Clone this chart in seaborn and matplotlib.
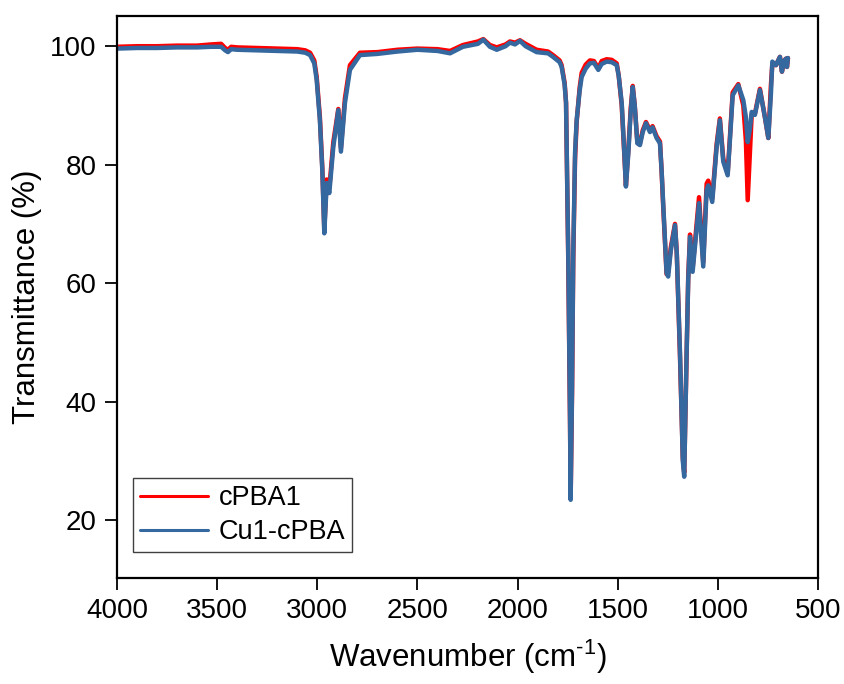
import numpy as np
import pandas as pd
import matplotlib
matplotlib.use('Agg')
import matplotlib.pyplot as plt
import seaborn as sns

wavenumber = [4000, 3900, 3800, 3700, 3600, 3530, 3480, 3460, 3446, 3430,
              3400, 3300, 3200, 3100, 3060, 3036, 3015, 3003, 2987, 2975,
              2965, 2953, 2940, 2920, 2895, 2882, 2862, 2837, 2787, 2700,
              2600, 2500, 2400, 2337, 2273, 2198, 2171, 2138, 2104, 2060,
              2038, 2013, 1988, 1960, 1938, 1905, 1848, 1823, 1790, 1780,
              1765, 1758, 1747, 1738, 1735, 1728, 1722, 1713, 1705, 1690,
              1680, 1660, 1639, 1619, 1597, 1580, 1555, 1530, 1505, 1495,
              1480, 1470, 1459, 1447, 1435, 1425, 1415, 1402, 1389, 1375,
              1359, 1339, 1326, 1306, 1289, 1281, 1273, 1256, 1248, 1235,
              1214, 1205, 1189, 1175, 1168, 1156, 1148, 1139, 1126, 1094,
              1073, 1056, 1048, 1028, 1006, 990, 973, 951, 940, 926,
              898, 873, 860, 851, 840, 831, 815, 790, 765, 748,
              735, 728, 710, 690, 680, 670, 660, 655, 650]

t_cpba1 = [99.9, 100.0, 100.0, 100.1, 100.1, 100.3, 100.4, 99.7, 99.4, 99.9,
           99.8, 99.7, 99.6, 99.5, 99.3, 98.9, 97.6, 94.8, 88.0, 79.5,
           69.0, 77.5, 76.0, 83.8, 89.4, 82.8, 91.2, 96.8, 98.9, 99.0,
           99.4, 99.6, 99.5, 99.2, 100.2, 100.8, 101.2, 100.2, 99.8, 100.3,
           100.8, 100.6, 101.0, 100.4, 100.0, 99.4, 99.1, 98.5, 97.6, 96.8,
           93.8, 90.5, 64.0, 36.0, 23.8, 41.5, 64.0, 81.0, 87.2, 93.0,
           95.5, 96.9, 97.6, 97.5, 96.3, 97.5, 97.8, 97.7, 97.1, 95.0,
           90.0, 83.5, 76.5, 82.5, 89.5, 93.3, 90.0, 83.8, 83.6, 85.8,
           87.2, 85.8, 86.5, 84.8, 83.9, 79.0, 73.0, 61.5, 61.8, 66.0,
           70.0, 65.0, 47.5, 30.5, 28.0, 48.0, 61.0, 68.2, 62.5, 74.5,
           63.5, 76.8, 77.3, 74.3, 83.5, 87.8, 81.0, 78.5, 84.5, 92.2,
           93.6, 90.0, 84.0, 74.0, 82.0, 88.5, 88.6, 92.8, 88.0, 84.5,
           93.5, 97.0, 96.8, 98.2, 95.7, 97.5, 97.9, 96.5, 98.0]

t_cu1_cpba = [99.6, 99.7, 99.7, 99.8, 99.8, 99.9, 99.9, 99.3, 99.0, 99.5,
              99.4, 99.3, 99.2, 99.1, 98.9, 98.5, 97.1, 94.3, 87.5, 79.1,
              68.4, 76.9, 75.2, 83.0, 89.2, 82.2, 90.4, 96.0, 98.5, 98.7,
              99.1, 99.4, 99.2, 98.8, 99.9, 100.4, 101.1, 99.9, 99.4, 100.0,
              100.6, 100.3, 100.9, 100.0, 99.6, 99.0, 98.8, 98.2, 97.3, 96.5,
              93.5, 90.4, 65.0, 36.9, 23.4, 42.5, 65.0, 82.0, 87.5, 92.5,
              94.8, 96.2, 97.1, 97.2, 96.0, 97.0, 97.4, 97.3, 96.8, 95.0,
              90.4, 84.0, 76.3, 81.9, 89.0, 93.1, 90.0, 83.6, 83.3, 85.5,
              87.0, 85.5, 86.3, 84.5, 83.6, 79.1, 73.5, 61.7, 61.1, 65.5,
              69.8, 65.0, 48.2, 30.0, 27.3, 48.2, 60.5, 67.8, 61.9, 73.5,
              62.8, 75.7, 76.5, 73.7, 83.0, 87.5, 80.5, 78.2, 84.0, 91.7,
              93.4, 90.9, 88.0, 83.8, 86.0, 88.9, 88.4, 92.6, 88.0, 84.5,
              92.0, 97.4, 96.8, 98.2, 95.7, 97.5, 97.9, 96.5, 98.0]

amostras = ['cPBA1', 'Cu1-cPBA']
cores = {'cPBA1': '#FF0000', 'Cu1-cPBA': '#35689E'}

df = pd.concat([
    pd.DataFrame({'Wavenumber': wavenumber, 'T': t_cpba1, 'Amostra': 'cPBA1'}),
    pd.DataFrame({'Wavenumber': wavenumber, 'T': t_cu1_cpba, 'Amostra': 'Cu1-cPBA'}),
], ignore_index=True)

# ---------- estilo ----------
sns.set_theme(style='ticks')
plt.rcParams['font.family'] = ['Liberation Sans', 'DejaVu Sans']
plt.rcParams['text.color'] = 'black'
plt.rcParams['axes.labelcolor'] = 'black'
plt.rcParams['axes.linewidth'] = 1.6

fig = plt.figure(figsize=(8.45, 6.84), dpi=100)
ax = fig.add_axes([117 / 845, 1 - 578 / 684, 701 / 845, 562 / 684])

sns.lineplot(data=df, x='Wavenumber', y='T', hue='Amostra', hue_order=amostras,
             palette=cores, estimator=None, sort=False, linewidth=3.2, ax=ax)

ax.set_xlim(4000, 500)
ax.set_ylim(10.2, 105.1)
ax.set_xticks(np.arange(4000, 499, -500))
ax.set_yticks([20, 40, 60, 80, 100])
ax.tick_params(axis='both', direction='out', length=8.5, width=1.3,
               labelsize=20, color='black', labelcolor='black', pad=6)
for s in ax.spines.values():
    s.set_visible(True)
    s.set_color('black')
    s.set_linewidth(1.6)

ax.set_xlabel('Wavenumber (cm$^{\\mathregular{\u20101}}$)', fontsize=22.5, labelpad=10)
ax.set_ylabel('Transmittance (%)', fontsize=22.5, labelpad=6)

handles, labels = ax.get_legend_handles_labels()
leg = ax.legend(handles, labels, loc='lower left', bbox_to_anchor=(0.023, 0.046),
                borderaxespad=0, fontsize=19.5, frameon=True, fancybox=False,
                framealpha=1, edgecolor='#404040', handlelength=2.5,
                handletextpad=0.4, borderpad=0.25, labelspacing=0.3)
leg.get_frame().set_linewidth(1.0)
for ln in leg.get_lines():
    ln.set_linewidth(2.2)

fig.savefig('out.png', dpi=100)
